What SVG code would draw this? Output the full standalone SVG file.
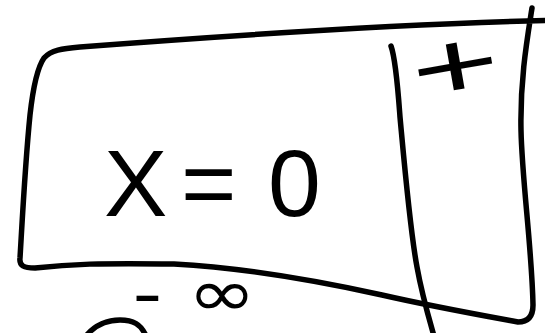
<svg xmlns="http://www.w3.org/2000/svg" width="545" height="333" viewBox="0 0 545 333">
<style>
.ink{fill:none;stroke:#000;stroke-width:5.5;stroke-linecap:round;stroke-linejoin:round}
.hand{fill:#000;font-family:"Liberation Sans","DejaVu Sans",sans-serif}
</style>
<rect width="545" height="333" fill="#fff"/>
<g id="box">
<path class="ink" d="M 545 20.5 C 450 23, 300 30, 80 47 C 62 48.5, 51 50, 44 58 C 37 68, 33 88, 30 115 C 25 165, 22 225, 20 258 C 19 266, 24 268, 35 268 C 70 264, 100 263, 174 264 C 230 267, 300 277, 382 295 C 430 306, 480 315, 518 322 C 528 322, 533 316, 533 305 C 532 250, 522 180, 521 130 C 520 80, 527 40, 532 8"/>
<path class="ink" d="M 391 46 C 396 60, 398 90, 400 117 C 404 160, 410 230, 417 267 C 422 295, 428 315, 434 336"/>
<path class="ink" d="M 86 336 C 95 325, 108 320, 120 320 C 133 320, 141 324, 146 336"/>
</g>
<g id="labels">
<text class="hand" x="104 181 268" y="216" font-size="95">X=0</text>
<text class="hand" x="455" y="98" font-size="95" text-anchor="middle" transform="translate(455 65) rotate(-10) scale(1.6 1) translate(-455 -65)">+</text>
<text class="hand" x="146 190" y="316" font-size="66" style="font-family:'DejaVu Sans',sans-serif" transform="translate(200 300) scale(1.25 1) translate(-200 -300)">-∞</text>
</g>
</svg>
